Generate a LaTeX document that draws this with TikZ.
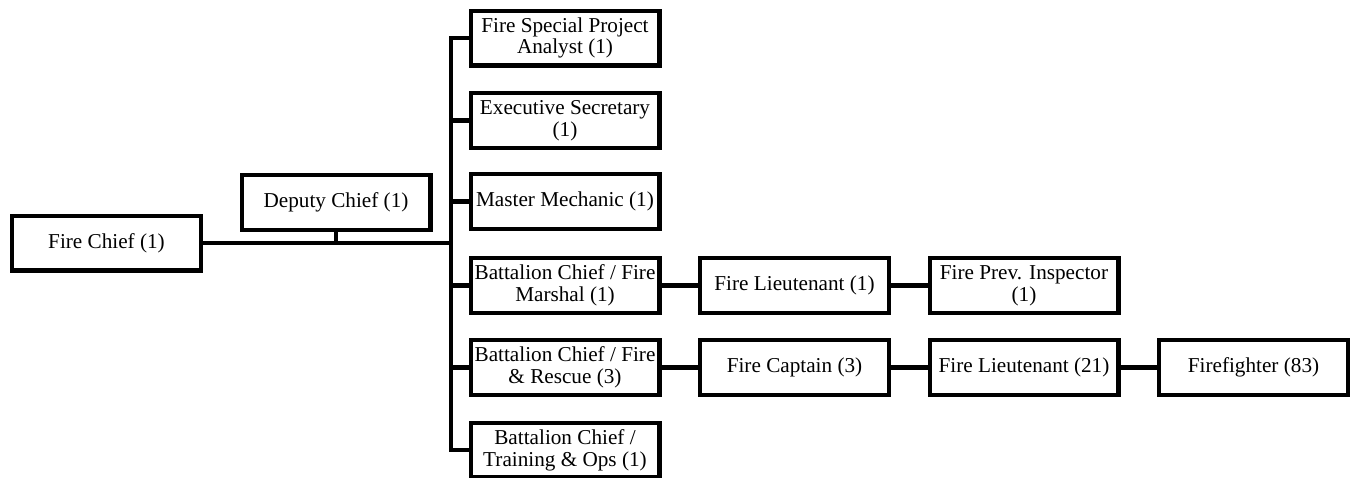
\documentclass[tikz,border=0pt]{standalone}
\usepackage{fontspec}
\setmainfont{Liberation Serif}
\begin{document}
\begin{tikzpicture}[x=1pt,y=-1pt,
  every node/.style={font=\fontsize{21.2pt}{21.7pt}\selectfont},
  posbox/.style={draw=black, line width=4.2pt, fill=white, minimum width=188.8pt,
    minimum height=54.8pt, inner sep=0pt, align=center},
  link/.style={draw=black, line width=4.2pt}]
\useasboundingbox (0,0) rectangle (1356,477);

% top level
\node[posbox] (chief)  at (106.5,243)   {Fire Chief (1)};
\node[posbox] (deputy) at (336,202.5)   {Deputy Chief (1)};

% positions reporting to the chief
\node[posbox] (spa)  at (565,38)    {Fire Special Project\\Analyst (1)};
\node[posbox] (sec)  at (565,120.5) {Executive Secretary\\(1)};
\node[posbox] (mech) at (565,201.5) {Master Mechanic (1)};
\node[posbox] (bcfm) at (565,285.5) {Battalion Chief / Fire\\Marshal (1)};
\node[posbox] (bcfr) at (565,367.5) {Battalion Chief / Fire\\\& Rescue (3)};
\node[posbox] (bcto) at (565,450)   {Battalion Chief /\\Training \& Ops (1)};

% prevention chain
\node[posbox] (lt1)  at (794.5,285.5) {Fire Lieutenant (1)};
\node[posbox] (insp) at (1024,285.5)  {Fire Prev. Inspector\\(1)};

% operations chain
\node[posbox] (capt) at (794.5,367.5) {Fire Captain (3)};
\node[posbox] (lt21) at (1024,367.5)  {Fire Lieutenant (21)};
\node[posbox] (ff)   at (1253.5,367.5){Firefighter (83)};

% vertical trunk position
\coordinate (trunk) at (451,0);

% connectors
\draw[link] (chief.east) -- (chief.east -| trunk);
\draw[link] (deputy.south) -- (deputy.south |- chief.east);
\draw[link] (spa.west) -- (spa.west -| trunk) -- (bcto.west -| trunk) -- (bcto.west);
\foreach \n in {sec,mech,bcfm,bcfr}
  \draw[link] (\n.west) -- (\n.west -| trunk);
\draw[link] (bcfm.east) -- (lt1.west);
\draw[link] (lt1.east) -- (insp.west);
\draw[link] (bcfr.east) -- (capt.west);
\draw[link] (capt.east) -- (lt21.west);
\draw[link] (lt21.east) -- (ff.west);
\end{tikzpicture}
\end{document}
